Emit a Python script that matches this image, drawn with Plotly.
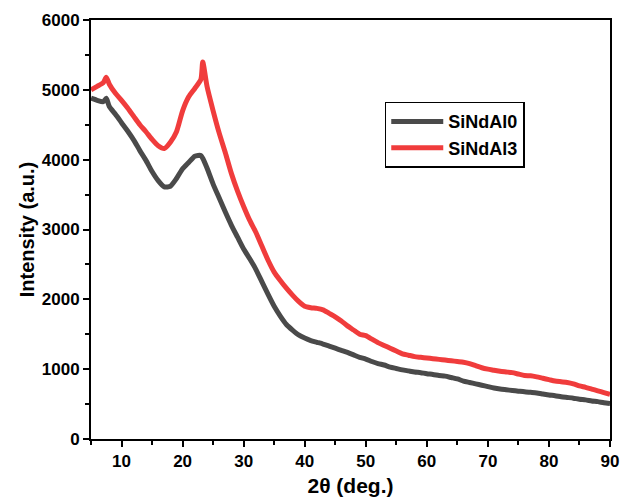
import plotly.graph_objects as go

two_theta = [5, 6, 7, 7.5, 8, 9, 10, 11, 12, 13, 14, 15, 16, 17, 18, 19, 20, 21, 22, 23, 23.3, 24, 25,
             26, 27, 28, 29, 30, 31, 32, 33, 34, 35, 36, 37, 38, 39, 40, 41, 42, 43, 44, 45,
             46, 47, 48, 49, 50, 51, 52, 53, 54, 55, 56, 57, 58, 59, 60, 61, 62, 63, 64, 65,
             66, 67, 68, 69, 70, 71, 72, 73, 74, 75, 76, 77, 78, 79, 80, 81, 82, 83, 84, 85,
             86, 87, 88, 89, 90]

sindal0 = [4880, 4850, 4830, 4880, 4760, 4650, 4530, 4410, 4280, 4130, 3990, 3830, 3700, 3610, 3620,
           3730, 3870, 3960, 4050, 4060, 4020, 3880, 3650, 3450, 3250, 3060, 2890, 2720, 2580,
           2430, 2250, 2070, 1900, 1760, 1640, 1560, 1490, 1445, 1410, 1385, 1360, 1330, 1300,
           1270, 1240, 1205, 1170, 1145, 1110, 1080, 1060, 1030, 1010, 990, 975, 960, 950, 935,
           925, 910, 900, 880, 860, 830, 810, 790, 770, 750, 730, 715, 705, 695, 685, 675, 668,
           660, 645, 630, 620, 605, 595, 585, 570, 560, 545, 535, 520, 510]

sindal3 = [5000, 5050, 5100, 5180, 5080, 4950, 4850, 4740, 4620, 4500, 4400, 4290, 4200, 4160, 4250,
           4400, 4700, 4900, 5020, 5150, 5400, 5050, 4700, 4380, 4100, 3800, 3550, 3330, 3130,
           2960, 2760, 2560, 2390, 2270, 2160, 2060, 1970, 1900, 1880, 1870, 1850, 1800, 1750,
           1690, 1620, 1560, 1500, 1480, 1430, 1380, 1340, 1300, 1260, 1220, 1200, 1180, 1170,
           1160, 1150, 1140, 1130, 1120, 1110, 1100, 1080, 1050, 1020, 1000, 985, 970, 960, 950,
           930, 910, 905, 890, 870, 850, 830, 820, 810, 790, 760, 740, 715, 690, 665, 640]

x_ticks = [10, 20, 30, 40, 50, 60, 70, 80, 90]
y_ticks = [0, 1000, 2000, 3000, 4000, 5000, 6000]

FONT = "Liberation Sans, Arial, sans-serif"

fig = go.Figure()
fig.add_trace(go.Scatter(x=two_theta, y=sindal0, mode="lines", name="SiNdAl0",
                         line=dict(color="#4a4a4a", width=5, shape="spline", smoothing=0.6)))
fig.add_trace(go.Scatter(x=two_theta, y=sindal3, mode="lines", name="SiNdAl3",
                         line=dict(color="#f03c3c", width=5, shape="spline", smoothing=0.6)))

axis_common = dict(showline=True, linecolor="black", linewidth=2, mirror=True,
                   ticks="outside", ticklen=6, tickwidth=2, tickcolor="black",
                   showgrid=False, zeroline=False, automargin=False,
                   tickfont=dict(family=FONT, size=17, color="black", weight="bold"))

fig.update_xaxes(range=[5, 90], tickvals=x_ticks,
                 minor=dict(ticks="outside", ticklen=4, tickwidth=2, tickcolor="black", dtick=5, tick0=5),
                 title=dict(text="2θ (deg.)", font=dict(family=FONT, size=21, color="black", weight="bold"),
                            standoff=8),
                 **axis_common)
fig.update_yaxes(range=[0, 6000], tickvals=y_ticks,
                 minor=dict(ticks="outside", ticklen=4, tickwidth=2, tickcolor="black", dtick=500),
                 title=dict(text="Intensity (a.u.)", font=dict(family=FONT, size=20, color="black", weight="bold"),
                            standoff=2),
                 **axis_common)

fig.update_layout(
    width=622, height=499,
    margin=dict(l=91, r=12, t=20, b=60),
    paper_bgcolor="white", plot_bgcolor="white",
    showlegend=True,
    legend=dict(x=0.566, y=0.805, xanchor="left", yanchor="top",
                bordercolor="black", borderwidth=1.5, bgcolor="white",
                font=dict(family=FONT, size=18, color="black", weight="bold"),
                itemwidth=52, tracegroupgap=0),
)

fig.write_html("out.html", config={"displayModeBar": False},
               post_script="document.body.style.margin='0';document.body.style.overflow='hidden';")
